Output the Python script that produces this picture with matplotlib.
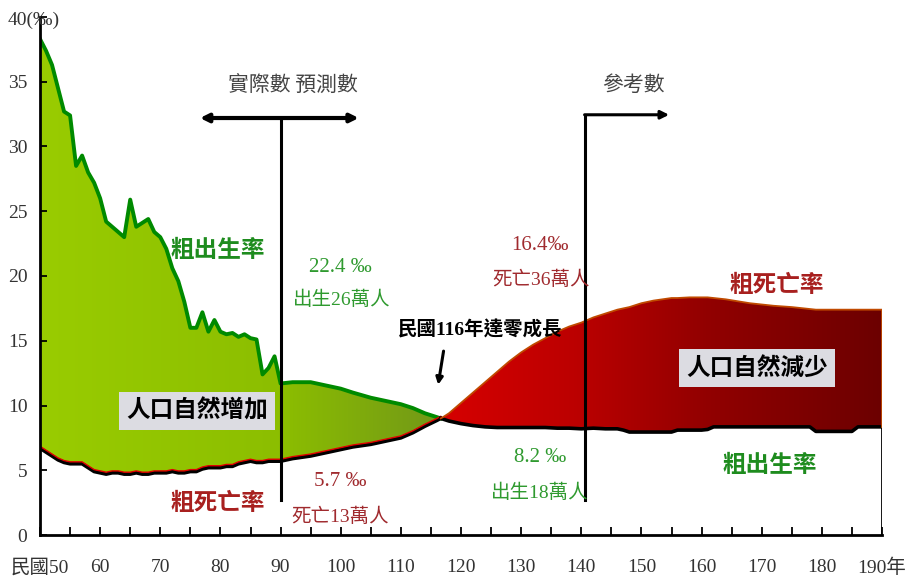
import numpy as np
import matplotlib
matplotlib.use("Agg")
import matplotlib.pyplot as plt
from matplotlib.colors import LinearSegmentedColormap
from matplotlib.path import Path
import matplotlib.transforms as mtransforms

# ---- data: crude birth / death rates (per mille), ROC years ----
years = list(range(50, 91)) + [
    92, 95, 98, 100, 102, 105, 108, 110, 112, 114, 116, 117, 118, 120, 122,
    124, 126, 128, 130, 132, 134, 136, 138, 140, 142, 144, 146, 147, 148, 150,
    152, 155, 156, 158, 160, 161, 162, 164, 166, 168, 170, 172, 175, 178, 179,
    180, 182, 185, 186, 188, 190]

birth_rate = [
    38.3, 37.4, 36.3, 34.5, 32.7, 32.4, 28.5, 29.3, 28.0, 27.2,
    26.0, 24.2, 23.8, 23.4, 23.0, 25.9, 23.8, 24.1, 24.4, 23.4,
    23.0, 22.1, 20.6, 19.6, 18.0, 16.0, 16.0, 17.2, 15.7, 16.6,
    15.7, 15.5, 15.6, 15.3, 15.5, 15.2, 15.1, 12.4, 12.9, 13.8, 11.7,
    11.8, 11.8, 11.5, 11.3, 11.0, 10.6, 10.3, 10.1, 9.8, 9.4, 9.1, 8.95, 8.8,
    8.6, 8.45, 8.35, 8.3, 8.3, 8.3, 8.3, 8.3, 8.25, 8.25, 8.2, 8.25, 8.2, 8.2,
    8.1, 7.95, 7.95, 7.95, 7.95, 8.1, 8.1, 8.1, 8.15, 8.35, 8.35, 8.35, 8.35,
    8.35, 8.35, 8.35, 8.35, 8.0, 8.0, 8.0, 8.0, 8.35, 8.35, 8.35]

death_rate = [
    6.7, 6.4, 6.1, 5.8, 5.6, 5.5, 5.5, 5.5, 5.2, 4.9,
    4.8, 4.7, 4.8, 4.8, 4.7, 4.7, 4.8, 4.7, 4.7, 4.8,
    4.8, 4.8, 4.9, 4.8, 4.8, 4.9, 4.9, 5.1, 5.2, 5.2,
    5.2, 5.3, 5.3, 5.5, 5.6, 5.7, 5.6, 5.6, 5.7, 5.7, 5.7,
    5.9, 6.1, 6.4, 6.6, 6.8, 7.0, 7.3, 7.5, 7.9, 8.4, 8.85, 9.1, 9.4,
    10.2, 11.0, 11.8, 12.6, 13.4, 14.1, 14.7, 15.2, 15.7, 16.1, 16.4, 16.8,
    17.1, 17.4, 17.5, 17.6, 17.9, 18.1, 18.3, 18.3, 18.35, 18.35, 18.35, 18.3,
    18.2, 18.05, 17.9, 17.8, 17.7, 17.6, 17.45, 17.4, 17.4, 17.4, 17.4, 17.4,
    17.4, 17.4]

x_ticks = list(range(50, 191, 10))
x_labels = ["民國50"] + [str(v) for v in range(60, 190, 10)] + ["190年"]
y_ticks = list(range(0, 41, 5))

# ---- fonts / colours ----
SERIF = ["Liberation Serif", "Noto Sans CJK TC"]
CJK = ["Noto Sans CJK TC", "DejaVu Sans"]
GREEN_TXT = "#2f9a2f"
GREEN_BOLD = "#1e8c1e"
RED_TXT = "#a02a2e"
RED_BOLD = "#a8201f"
TICK_CLR = "#333333"

W, H = 907, 581
fig = plt.figure(figsize=(W / 100, H / 100), dpi=100)
ax = fig.add_axes([40 / W, 46 / H, 842 / W, 518 / H])
ax.set_xlim(50, 190)
ax.set_ylim(0, 40)

x = np.asarray(years, float)
b = np.asarray(birth_rate, float)
d = np.asarray(death_rate, float)

# crossing point of the two curves (zero natural growth)
diff = b - d
i = int(np.where((diff[:-1] > 0) & (diff[1:] <= 0))[0][0])
t = diff[i] / (diff[i] - diff[i + 1])
xc = x[i] + t * (x[i + 1] - x[i])
yc = b[i] + t * (b[i + 1] - b[i])

xg = np.append(x[:i + 1], xc)
bg = np.append(b[:i + 1], yc)
dg = np.append(d[:i + 1], yc)
xr = np.insert(x[i + 1:], 0, xc)
br = np.insert(b[i + 1:], 0, yc)
dr = np.insert(d[i + 1:], 0, yc)


def gradient_area(xs, top, bottom, colors):
    poly = ax.fill_between(xs, top, bottom, facecolor="none", edgecolor="none")
    paths = poly.get_paths()
    clip = Path.make_compound_path(*paths) if len(paths) > 1 else paths[0]
    cmap = LinearSegmentedColormap.from_list("area", colors)
    grad = np.linspace(0, 1, 256).reshape(1, -1)
    im = ax.imshow(grad, cmap=cmap, extent=[xs[0], xs[-1], 0, 40],
                   aspect="auto", origin="lower", zorder=1,
                   interpolation="bilinear")
    im.set_clip_path(clip, transform=ax.transData)


gradient_area(xg, bg, dg, [(0.0, "#99cc00"), (0.6, "#8cbe00"), (1.0, "#729818")])
gradient_area(xr, dr, br, [(0.0, "#d60000"), (0.3, "#bc0000"),
                           (0.6, "#920000"), (1.0, "#6c0000")])
ax.set_xlim(50, 190)
ax.set_ylim(0, 40)

# curves
ax.plot(xg, bg, color="#008a00", lw=2.8, zorder=3, solid_joinstyle="round")
ax.plot(xg, dg, color="black", lw=2.6, zorder=3)
up = mtransforms.offset_copy(ax.transData, fig=fig, x=0, y=1.4, units="points")
ax.plot(xg, dg, color="#e00000", lw=1.0, zorder=3, transform=up)
ax.plot(xr, br, color="black", lw=2.6, zorder=3)
ax.plot(xr, dr, color="#c04a00", lw=1.3, zorder=3)
ax.plot([x[-1], x[-1]], [0, b[-1]], color="black", lw=2.0, zorder=3,
        solid_capstyle="butt")
ax.plot([x[-1], x[-1]], [b[-1], d[-1]], color="#c04a00", lw=1.3, zorder=3)

# axes styling
for s in ("top", "right"):
    ax.spines[s].set_visible(False)
for s in ("left", "bottom"):
    ax.spines[s].set_linewidth(2.0)
    ax.spines[s].set_zorder(6)
ax.set_xticks(x_ticks)
ax.set_xticks(list(range(55, 190, 10)), minor=True)
ax.set_xticklabels(x_labels, family=SERIF, fontsize=14, color=TICK_CLR)
ax.set_yticks(y_ticks)
ax.set_yticklabels([str(v) for v in y_ticks[:-1]] + [""], family=SERIF,
                   fontsize=14, color=TICK_CLR)
ax.tick_params(axis="x", which="both", direction="in", length=6, width=1.3,
               pad=17)
ax.tick_params(axis="y", direction="in", length=5, width=1.3, pad=9)
fig.text(8 / W, 1 - 20 / H, "40(‰)", family=SERIF, fontsize=14,
         color=TICK_CLR, ha="left", va="center")


def ftxt(px, py, s, **kw):
    kw.setdefault("ha", "center")
    kw.setdefault("va", "center")
    return fig.text(px / W, 1 - py / H, s, zorder=7, **kw)


# period markers
ax.plot([90, 90], [2.7, 32.2], color="black", lw=2.2, zorder=5, clip_on=False)
ax.annotate("", xy=(76.6, 32.2), xytext=(103.0, 32.2),
            arrowprops=dict(arrowstyle="<|-|>", lw=3.0, color="black",
                            mutation_scale=12, shrinkA=0, shrinkB=0),
            annotation_clip=False, zorder=5)
ax.plot([140.7, 140.7], [2.7, 32.45], color="black", lw=2.2, zorder=5,
        clip_on=False)
ax.annotate("", xy=(154.6, 32.45), xytext=(140.55, 32.45),
            arrowprops=dict(arrowstyle="-|>", lw=2.2, color="black",
                            mutation_scale=12, shrinkA=0, shrinkB=0),
            annotation_clip=False, zorder=5)

ftxt(293, 85, "實際數 預測數", family=CJK, fontsize=15, color="#444444")
ftxt(633, 85, "參考數", family=CJK, fontsize=15, color="#444444")

# series labels
ftxt(218, 250, "粗出生率", family=CJK, fontsize=17, weight="bold", color=GREEN_BOLD)
ftxt(218, 503, "粗死亡率", family=CJK, fontsize=17, weight="bold", color=RED_BOLD)
ftxt(777, 285, "粗死亡率", family=CJK, fontsize=17, weight="bold", color=RED_BOLD)
ftxt(770, 465, "粗出生率", family=CJK, fontsize=17, weight="bold", color=GREEN_BOLD)

# value call-outs
ftxt(340, 268, "22.4 ‰", family=SERIF, fontsize=15, color=GREEN_TXT)
ftxt(342, 300, "出生26萬人", family=SERIF, fontsize=14, color=GREEN_TXT)
ftxt(540, 245, "16.4‰", family=SERIF, fontsize=15, color=RED_TXT)
ftxt(541, 280, "死亡36萬人", family=SERIF, fontsize=14, color=RED_TXT)
ftxt(340, 481, "5.7 ‰", family=SERIF, fontsize=15, color=RED_TXT)
ftxt(340, 517, "死亡13萬人", family=SERIF, fontsize=14, color=RED_TXT)
ftxt(540, 458, "8.2 ‰", family=SERIF, fontsize=15, color=GREEN_TXT)
ftxt(540, 493, "出生18萬人", family=SERIF, fontsize=14, color=GREEN_TXT)

# zero-growth note
ftxt(480, 330, "民國116年達零成長", family=SERIF, fontsize=14, weight="bold",
     color="black")
ax.annotate("", xy=(116.2, 11.6), xytext=(117.1, 14.2),
            arrowprops=dict(arrowstyle="-|>", lw=2.2, color="black",
                            mutation_scale=10, shrinkA=0, shrinkB=0),
            zorder=5)

# region boxes
box = dict(boxstyle="square,pad=0.3", facecolor="#dcdce2", edgecolor="none")
ftxt(197, 411, "人口自然增加", family=CJK, fontsize=17, weight="bold",
     color="black", bbox=box)
ftxt(757, 368, "人口自然減少", family=CJK, fontsize=17, weight="bold",
     color="black", bbox=box)

fig.savefig("out.png", dpi=100)
